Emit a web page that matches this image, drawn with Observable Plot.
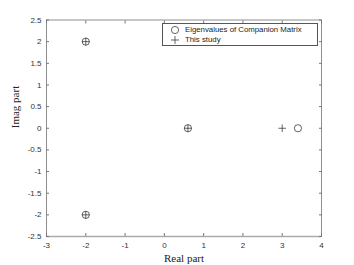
<!DOCTYPE html>
<html><head><meta charset="utf-8">
<script src="https://cdn.jsdelivr.net/npm/d3@7"></script>
<script src="https://cdn.jsdelivr.net/npm/@observablehq/plot@0.6"></script>
<style>
body{margin:0;background:#fff;}
#wrap{position:relative;width:354px;height:265px;}
#legend{position:absolute;left:162px;top:23px;width:154px;height:21px;border:0.8px solid #555;background:#fff;font:7.8px "Liberation Sans",Arial,sans-serif;color:#222;}
#legend div{position:absolute;left:22px;white-space:nowrap;line-height:9px;}
#legend svg{position:absolute;left:6px;}
</style></head><body>
<div id="wrap"></div>
<script>
const eigReal = [-2, -2, 0.6, 3.4];
const eigImag = [2, -2, 0, 0];
const studyReal = [-2, -2, 0.6, 3.0];
const studyImag = [2, -2, 0, 0];
const xTicks = [-3, -2, -1, 0, 1, 2, 3, 4];
const yTicks = [-2.5, -2, -1.5, -1, -0.5, 0, 0.5, 1, 1.5, 2, 2.5];
const legendLabels = ["Eigenvalues of Companion Matrix", "This study"];

const eig = eigReal.map((x, i) => ({x, y: eigImag[i]}));
const study = studyReal.map((x, i) => ({x, y: studyImag[i]}));

const plusSymbol = {draw(ctx, size){ const r = Math.sqrt(size/Math.PI); ctx.moveTo(-r,0); ctx.lineTo(r,0); ctx.moveTo(0,-r); ctx.lineTo(0,r);} };

const fontTick = "Liberation Sans, Arial, sans-serif";
const chart = Plot.plot({
  width: 354, height: 265,
  marginLeft: 46, marginRight: 33, marginTop: 19.5, marginBottom: 29,
  style: {fontFamily: fontTick, fontSize: "8px", color: "#333", background: "#fff"},
  x: {domain: [-3, 4], ticks: xTicks, label: null},
  y: {domain: [-2.5, 2.5], ticks: yTicks, label: null},
  marks: [
    Plot.frame({stroke: "#444", strokeWidth: 0.6}),
    Plot.ruleY([-2.5], {stroke: "#aaa", strokeWidth: 1.6}),
    Plot.axisX({anchor: "bottom", ticks: xTicks, tickSize: -3, tickPadding: 9, stroke: "#777", fill: "#333", tickFormat: d => String(d)}),
    Plot.axisX({anchor: "top", ticks: xTicks, tickSize: -3, tickFormat: () => "", stroke: "#777"}),
    Plot.axisY({anchor: "left", ticks: yTicks, tickSize: -3, tickPadding: 8, stroke: "#777", fill: "#333", tickFormat: d => String(d)}),
    Plot.axisY({anchor: "right", ticks: yTicks, tickSize: -3, tickFormat: () => "", stroke: "#777"}),
    Plot.dot(eig, {x: "x", y: "y", r: 3.6, stroke: "#222", strokeWidth: 0.7, fill: "none"}),
    Plot.dot(study, {x: "x", y: "y", r: 3.8, symbol: plusSymbol, stroke: "#222", strokeWidth: 0.7, fill: "none"}),
    Plot.text(["Real part"], {frameAnchor: "bottom", dy: 25, text: d => d, fontFamily: "Liberation Serif, DejaVu Serif, serif", fontSize: 11, fill: "#222"}),
    Plot.text(["Imag part"], {frameAnchor: "left", dx: -31, rotate: -90, text: d => d, fontFamily: "Liberation Serif, DejaVu Serif, serif", fontSize: 11, fill: "#222"})
  ]
});
const wrap = document.getElementById("wrap");
wrap.appendChild(chart);
const leg = document.createElement("div");
leg.id = "legend";
leg.innerHTML =
  `<svg width="12" height="10" style="top:0.5px"><circle cx="6" cy="5" r="3.6" fill="none" stroke="#222" stroke-width="0.7"/></svg>` +
  `<div style="top:1px">${legendLabels[0]}</div>` +
  `<svg width="12" height="10" style="top:10.5px"><path d="M2,5H10M6,1V9" stroke="#222" stroke-width="0.7"/></svg>` +
  `<div style="top:11px">${legendLabels[1]}</div>`;
wrap.appendChild(leg);
</script>
</body></html>
